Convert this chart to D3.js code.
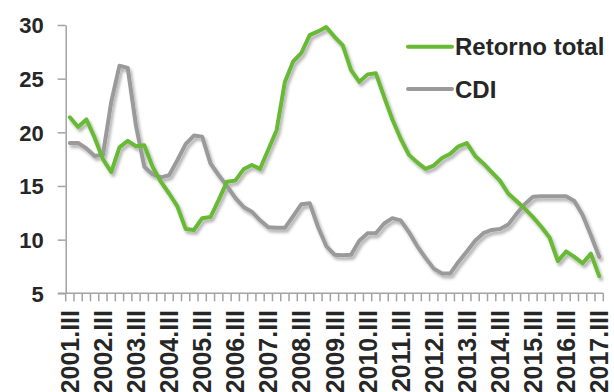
<!DOCTYPE html>
<html><head><meta charset="utf-8">
<script src="https://cdn.jsdelivr.net/npm/d3@7/dist/d3.min.js"></script>
<style>body{margin:0;background:#fff;}svg{display:block;}</style>
</head><body>
<svg id="chart" width="614" height="392"></svg>
<script>
const categories = [
"2001.III","2001.IV","2002.I","2002.II","2002.III","2002.IV","2003.I","2003.II",
"2003.III","2003.IV","2004.I","2004.II","2004.III","2004.IV","2005.I","2005.II",
"2005.III","2005.IV","2006.I","2006.II","2006.III","2006.IV","2007.I","2007.II",
"2007.III","2007.IV","2008.I","2008.II","2008.III","2008.IV","2009.I","2009.II",
"2009.III","2009.IV","2010.I","2010.II","2010.III","2010.IV","2011.I","2011.II",
"2011.III","2011.IV","2012.I","2012.II","2012.III","2012.IV","2013.I","2013.II",
"2013.III","2013.IV","2014.I","2014.II","2014.III","2014.IV","2015.I","2015.II",
"2015.III","2015.IV","2016.I","2016.II","2016.III","2016.IV","2017.I","2017.II",
"2017.III"];
const retornoTotal = [
21.4,20.5,21.2,19.5,17.5,16.3,18.6,19.2,18.7,18.8,
16.8,15.4,14.3,13.1,11.0,10.9,12.0,12.1,13.7,15.4,
15.5,16.55,16.95,16.6,18.4,20.2,24.7,26.6,27.4,29.05,
29.4,29.8,28.9,28.1,25.8,24.7,25.4,25.5,23.3,21.2,
19.4,17.9,17.2,16.6,16.9,17.6,18.0,18.7,19.0,17.8,
17.1,16.3,15.5,14.3,13.6,12.9,12.1,11.2,10.2,8.0,
8.9,8.4,7.8,8.7,6.6];
const cdi = [
19.0,19.0,18.5,17.8,17.9,22.8,26.2,26.0,20.6,16.8,
16.1,15.8,16.0,17.4,18.9,19.7,19.6,17.1,16.0,15.0,
13.9,13.05,12.6,11.8,11.15,11.1,11.1,12.2,13.3,13.4,
11.2,9.4,8.6,8.55,8.6,9.9,10.6,10.6,11.5,12.0,
11.8,10.7,9.4,8.3,7.3,6.85,6.85,7.95,8.9,9.9,
10.6,10.9,11.0,11.4,12.4,13.3,14.0,14.05,14.05,14.05,
14.05,13.6,12.3,10.4,8.4];
const yTicks = [5,10,15,20,25,30];
const seriesNames = ["Retorno total","CDI"];
const seriesColors = ["#68b934","#9a9a9a"];

const svg = d3.select("#chart");
const axisColor = "#a3a3a3";
const textColor = "#262626";

const defs = svg.append("defs");
const f = defs.append("filter").attr("id","shadow").attr("x","-10%").attr("y","-10%").attr("width","130%").attr("height","130%");
f.append("feDropShadow").attr("dx",2).attr("dy",3).attr("stdDeviation",1.8)
  .attr("flood-color","#000").attr("flood-opacity",0.3);

const x = d3.scaleBand().domain(categories).range([65.7, 603.3]).padding(0);
const y = d3.scaleLinear().domain([5,30]).range([293.3, 25]);

// Y axis
const yAxis = d3.axisLeft(y).tickValues(yTicks).tickSize(8).tickSizeOuter(0).tickPadding(14);
const gy = svg.append("g").attr("transform","translate(65.7,0)").call(yAxis);
gy.select(".domain").attr("stroke",axisColor).attr("stroke-width",1.5);
gy.selectAll(".tick line").attr("stroke",axisColor).attr("stroke-width",1.5);
gy.selectAll(".tick text").attr("fill",textColor).style("font-family","Liberation Sans, Arial, sans-serif")
  .style("font-weight","bold").style("font-size","22px").attr("dy","0.36em");

// X axis line
svg.append("line").attr("x1",58).attr("x2",x.range()[1]).attr("y1",y(5)).attr("y2",y(5))
  .attr("stroke",axisColor).attr("stroke-width",1.5);
// X ticks at band boundaries
const bounds = categories.map(c => x(c)).concat([x.range()[1]]);
svg.append("g").selectAll("line").data(bounds).join("line")
  .attr("x1",d=>d).attr("x2",d=>d).attr("y1",y(5)).attr("y2",y(5)+8)
  .attr("stroke",axisColor).attr("stroke-width",1.5);
// X labels
const labelCats = categories.filter(c => c.endsWith(".III"));
svg.append("g").selectAll("text").data(labelCats).join("text")
  .attr("transform", d => `translate(${x(d)+x.bandwidth()/2},310) rotate(-90)`)
  .attr("text-anchor","end").attr("dy","0.36em")
  .attr("fill",textColor).style("font-family","Liberation Sans, Arial, sans-serif")
  .style("font-weight","bold").style("font-size","25px").text(d=>d);

// Lines
const line = d3.line().x((d,i)=>x(categories[i])+x.bandwidth()/2).y(d=>y(d));
const gl = svg.append("g").attr("filter","url(#shadow)");
gl.append("path").datum(cdi).attr("d",line).attr("fill","none")
  .attr("stroke",seriesColors[1]).attr("stroke-width",4).attr("stroke-linejoin","round").attr("stroke-linecap","round");
gl.append("path").datum(retornoTotal).attr("d",line).attr("fill","none")
  .attr("stroke",seriesColors[0]).attr("stroke-width",4).attr("stroke-linejoin","round").attr("stroke-linecap","round");

// Legend
const lg = svg.append("g");
const legY = [46.7, 89];
seriesNames.forEach((n,i)=>{
  lg.append("line").attr("x1",408).attr("x2",452).attr("y1",legY[i]).attr("y2",legY[i])
    .attr("stroke",seriesColors[i]).attr("stroke-width",4).attr("stroke-linecap","round");
  lg.append("text").attr("x",455).attr("y",legY[i]+8.5).attr("fill",textColor)
    .style("font-family","Liberation Sans, Arial, sans-serif").style("font-weight","bold")
    .style("font-size","24px").text(n);
});
</script>
</body></html>
